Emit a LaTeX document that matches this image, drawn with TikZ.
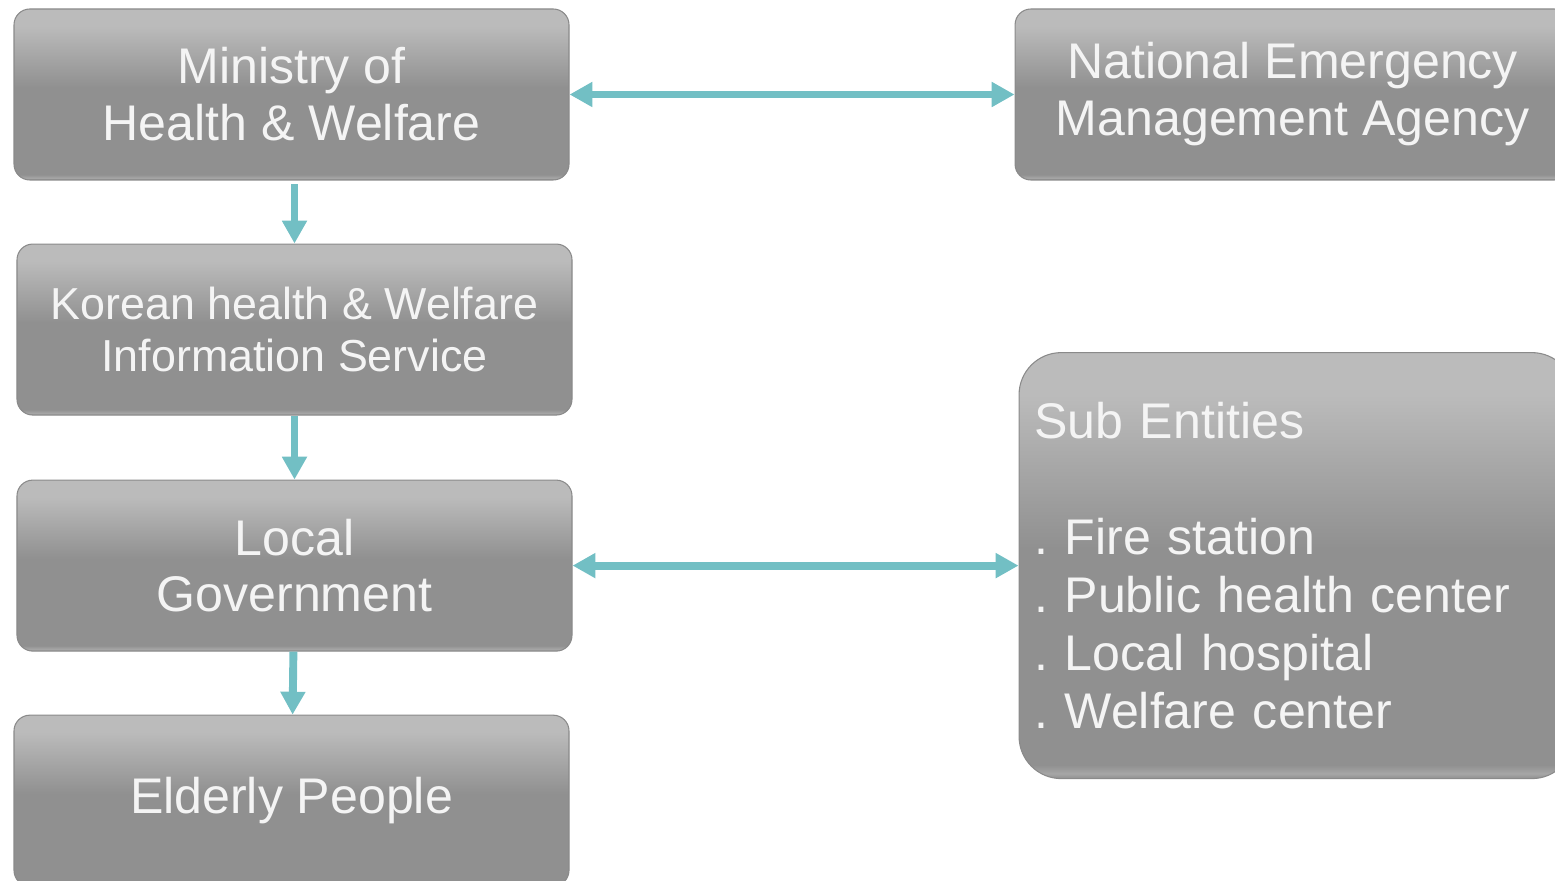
\documentclass[tikz,border=0pt]{standalone}
\usepackage{fontspec}
\setmainfont{Liberation Sans}
\usetikzlibrary{positioning}
\usetikzlibrary{arrows.meta}

\definecolor{boxlight}{HTML}{BBBBBB}
\definecolor{boxdark}{HTML}{909090}
\definecolor{boxband}{HTML}{A6A6A6}
\definecolor{boxedge}{HTML}{8A8A8A}
\definecolor{arrowteal}{HTML}{72BFC4}
\definecolor{boxtext}{HTML}{F4F4F4}

\pgfdeclareverticalshading{boxshade}{100bp}{color(0bp)=(boxdark); color(25bp)=(boxdark);
  color(25.6bp)=(boxband); color(26.6bp)=(boxdark); color(52bp)=(boxdark);
  color(70bp)=(boxlight); color(75bp)=(boxlight); color(100bp)=(boxlight)}

\begin{document}
\frenchspacing
\begin{tikzpicture}[
  box/.style={draw=boxedge, line width=0.6pt, rounded corners=9pt, shading=boxshade, align=center,
    text=boxtext, minimum width=11.1cm, minimum height=3.42cm,
    font=\fontsize{28.5}{32.4}\selectfont},
  subbox/.style={box, align=left, text width=10.5cm, inner xsep=0.3cm,
    minimum height=8.52cm, rounded corners=24pt, font=\fontsize{28.5}{33}\selectfont},
  arrow/.style={-{Triangle[length=13pt, width=13.5pt]}, line width=4.5pt, draw=arrowteal},
  dblarrow/.style={{Triangle[length=13pt, width=13.5pt]}-{Triangle[length=13pt, width=13.5pt]}, line width=4.5pt, draw=arrowteal}
]
\useasboundingbox (0,0) rectangle (31.1,-17.62);

% Left column
\node[box] (ministry) at (5.83,-1.89) {Ministry of\\Health \& Welfare};
\node[box, below=1.26cm of ministry, xshift=0.06cm, font=\fontsize{25.5}{29.6}\selectfont] (korean) {Korean health \& Welfare\\Information Service};
\node[box, below=1.28cm of korean] (localgov) {Local\\Government};
\node[box, below=1.26cm of localgov, xshift=-0.06cm] (elderly) {Elderly People};

% Right column
\node[box, right=8.9cm of ministry] (nema) {National Emergency\\Management Agency};
\node[subbox, right=8.92cm of localgov] (sub) {Sub Entities\\[33pt]. Fire station\\. Public health center\\. Local hospital\\. Welfare center};

% Arrows down
\draw[arrow, shorten <=2pt] (ministry.south -| korean.north) -- (korean.north);
\draw[arrow] (korean) -- (localgov);
\draw[arrow] (localgov) -- (elderly);

% Arrows across
\draw[dblarrow] (ministry) -- (nema);
\draw[dblarrow] (localgov) -- (sub);

\end{tikzpicture}
\end{document}
